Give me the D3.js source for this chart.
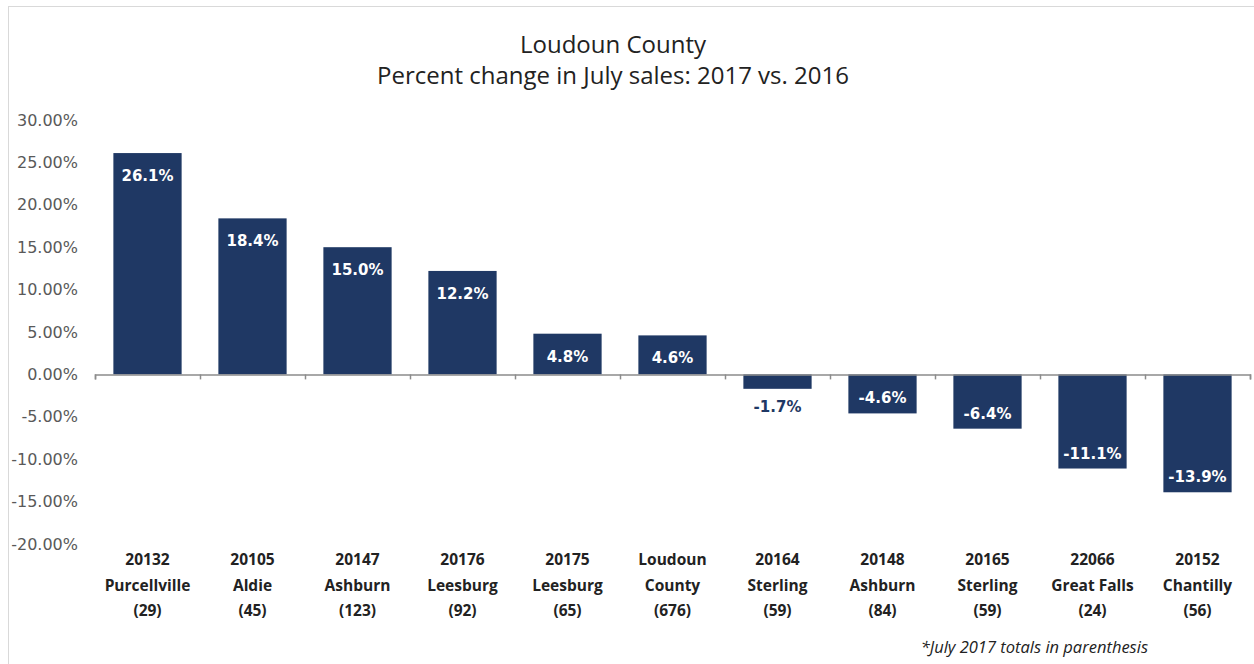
<!DOCTYPE html>
<html>
<head>
<meta charset="utf-8">
<script src="https://cdn.jsdelivr.net/npm/d3@7"></script>
<style>
	body { margin: 0; background: #fff; }
	svg { display: block; font-family: "Open Sans", sans-serif; }
</style>
</head>
<body>
<div id="chart"></div>
<script>
const zips = ["20132","20105","20147","20176","20175","Loudoun","20164","20148","20165","22066","20152"];
const places = ["Purcellville","Aldie","Ashburn","Leesburg","Leesburg","County","Sterling","Ashburn","Sterling","Great Falls","Chantilly"];
const totals = ["(29)","(45)","(123)","(92)","(65)","(676)","(59)","(84)","(59)","(24)","(56)"];
const changes = [26.1, 18.4, 15.0, 12.2, 4.8, 4.6, -1.7, -4.6, -6.4, -11.1, -13.9];
const yTicks = [30, 25, 20, 15, 10, 5, 0, -5, -10, -15, -20];

const width = 1254, height = 664;
const margin = {top: 120, right: 4, bottom: 120, left: 95};
const barColor = '#1f3864';
const verdana = '"DejaVu Sans", Verdana, sans-serif';

// hyphen minus like the original, not the unicode minus
const pct = (fmt) => d => d3.format(fmt)(d).replace('\u2212', '-') + '%';

const svg = d3.select('#chart').append('svg')
	.attr('width', width)
	.attr('height', height);

// outer frame
svg.append('rect')
	.attr('x', 8.5).attr('y', 6.5)
	.attr('width', width - 6).attr('height', height - 4)
	.attr('fill', 'none')
	.attr('stroke', '#d9d9d9');

const x = d3.scaleBand()
	.domain(d3.range(changes.length))
	.range([margin.left, width - margin.right])
	.paddingInner(0.35)
	.paddingOuter(0.175);

const y = d3.scaleLinear()
	.domain([-20, 30])
	.range([height - margin.bottom, margin.top]);

// title
const title = svg.append('text')
	.attr('text-anchor', 'middle')
	.attr('fill', '#222')
	.style('font-size', '24px');
title.append('tspan').attr('x', 613).attr('y', 53).text('Loudoun County');
title.append('tspan').attr('x', 613).attr('y', 84).text('Percent change in July sales: 2017 vs. 2016');

// y axis labels
svg.append('g')
	.selectAll('text')
	.data(yTicks)
	.enter()
	.append('text')
		.attr('x', 78)
		.attr('y', d => y(d))
		.attr('dy', '0.35em')
		.attr('text-anchor', 'end')
		.attr('fill', '#595959')
		.style('font-family', verdana)
		.style('font-size', '16px')
		.text(pct('.2f'));

// bars
svg.append('g')
	.selectAll('rect')
	.data(changes)
	.enter()
	.append('rect')
		.attr('x', (d, i) => x(i))
		.attr('y', d => y(Math.max(0, d)))
		.attr('width', x.bandwidth())
		.attr('height', d => Math.abs(y(d) - y(0)))
		.attr('fill', barColor);

// zero line with ticks
const zeroAxis = d3.axisBottom(d3.scaleLinear().domain([0, changes.length]).range([margin.left, width - margin.right]))
	.ticks(changes.length)
	.tickSize(5)
	.tickFormat('');
svg.append('g')
	.attr('transform', `translate(0, ${y(0)})`)
	.call(zeroAxis)
	.call(g => g.selectAll('line,path').attr('stroke', '#8c8c8c').attr('stroke-width', 1.5));

// value labels
const small = d => d < 0 && y(d) - y(0) < 30;
svg.append('g')
	.selectAll('text')
	.data(changes)
	.enter()
	.append('text')
		.attr('x', (d, i) => x(i) + x.bandwidth() / 2)
		.attr('y', d => {
			if (d >= 0) return y(d) + 28;
			if (small(d)) return y(d) + 23;
			return y(d) - 10;
		})
		.attr('text-anchor', 'middle')
		.attr('fill', d => small(d) ? barColor : '#fff')
		.style('font-family', verdana)
		.style('font-size', '15px')
		.style('font-weight', 'bold')
		.text(pct('.1f'));

// category labels
const cats = svg.append('g')
	.selectAll('text')
	.data(zips)
	.enter()
	.append('text')
		.attr('text-anchor', 'middle')
		.attr('fill', '#222')
		.style('font-size', '15.5px')
		.style('font-weight', 'bold');
[zips, places, totals].forEach((arr, row) => {
	cats.append('tspan')
		.attr('x', (d, i) => x(i) + x.bandwidth() / 2)
		.attr('y', 565 + row * 25.5)
		.text((d, i) => arr[i]);
});

// footnote
svg.append('text')
	.attr('x', 1148)
	.attr('y', 653)
	.attr('text-anchor', 'end')
	.attr('fill', '#222')
	.style('font-size', '16.5px')
	.style('font-style', 'italic')
	.text('*July 2017 totals in parenthesis');
</script>
</body>
</html>
